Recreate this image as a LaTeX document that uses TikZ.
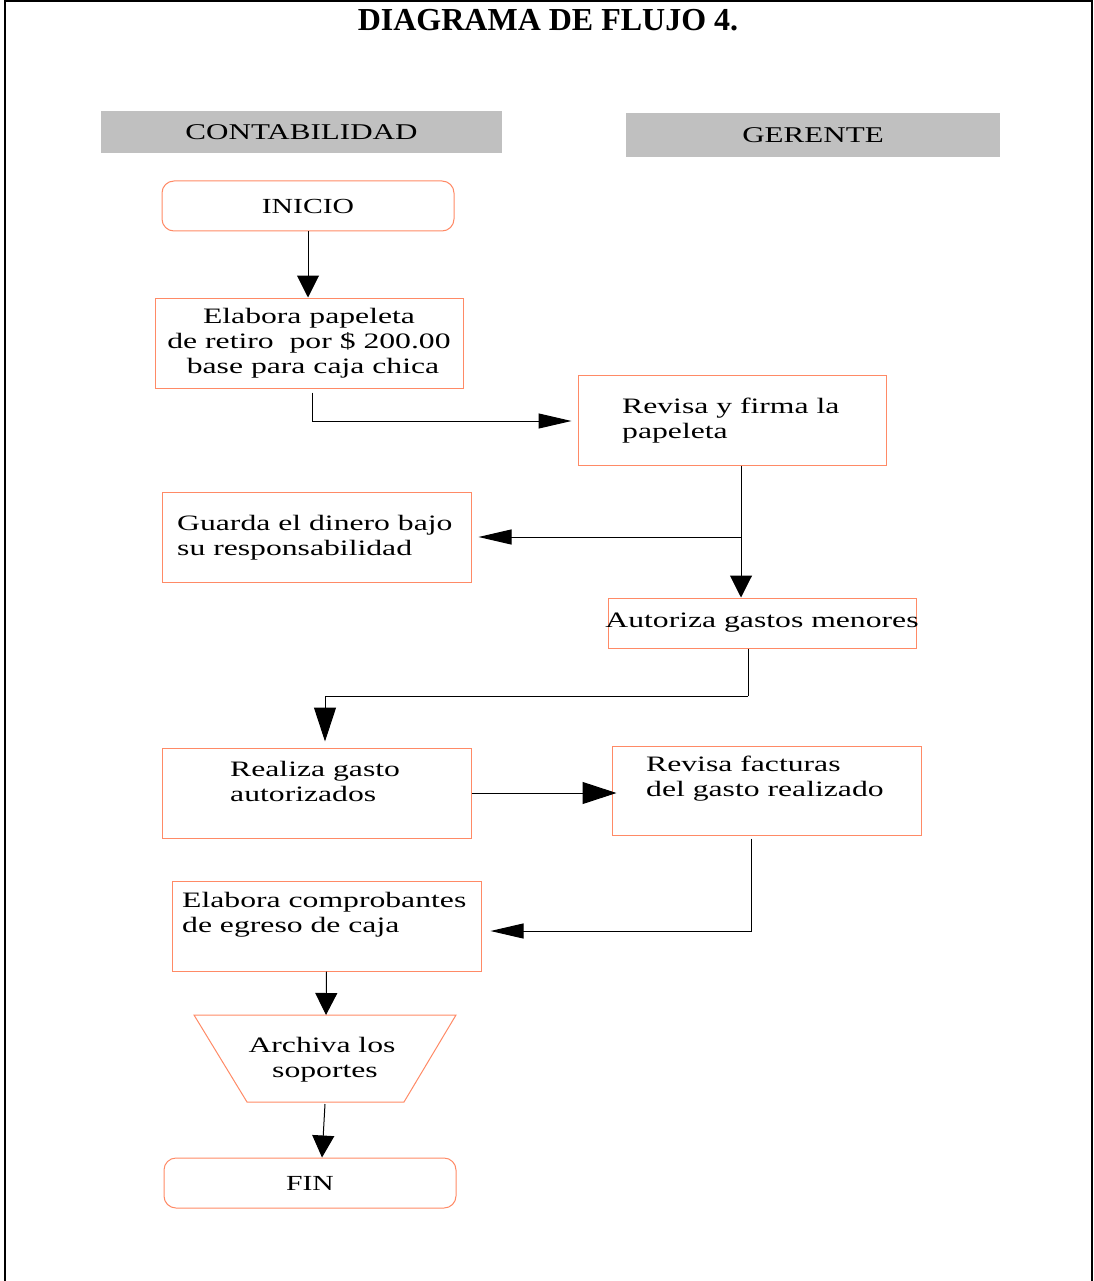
\documentclass[tikz,border=0pt]{standalone}
\usepackage{fontspec}
\setmainfont{Liberation Serif}
\newfontfamily\boxfont[FakeStretch=1.44]{Liberation Serif}
\newfontfamily\hdrfont[FakeStretch=1.38]{Liberation Serif}
\newcommand\boxtxt{\boxfont\fontsize{22}{25}\selectfont\lineskiplimit=-20pt\relax}
\newcommand\hdrtxt{\hdrfont\fontsize{22.5}{25}\selectfont}
\newcommand\termtxt{\hdrfont\fontsize{21.5}{25}\selectfont}
\usetikzlibrary{arrows.meta,calc}
\definecolor{boxline}{HTML}{FF8A66}
\definecolor{hdr}{HTML}{C0C0C0}
\begin{document}
\begin{tikzpicture}[x=1pt,y=-1pt,
  box/.style={draw=boxline, line width=1pt, rectangle, inner sep=0pt},
  rbox/.style={box, rounded corners=12pt, font=\termtxt},
  bfont/.style={font=\boxtxt},
  txt/.style={bfont, align=left, inner sep=0pt},
  hdrbox/.style={fill=hdr, inner sep=0pt, font=\hdrtxt},
  ln/.style={draw=black, line width=1pt},
  av/.style={ln, -{Triangle[length=22pt,width=22pt]}},
  ah/.style={ln, -{Triangle[length=33pt,width=15pt]}},
  aw/.style={ln, -{Triangle[length=34pt,width=22pt]}}]
\useasboundingbox (0,0) rectangle (1093,1281);
% frame
\draw[line width=1.5pt] (5,1281) -- (5,1) -- (1092,1) -- (1092,1281);
% title and lane headers
\node[font=\bfseries\fontsize{32}{36}\selectfont] (title) at (548,20) {DIAGRAMA DE FLUJO 4.};
\node[hdrbox, minimum width=401pt, minimum height=42pt] (h1) at (301.5,132) {CONTABILIDAD};
\node[hdrbox, minimum width=374pt, minimum height=44pt] (h2) at (813,135) {GERENTE};
% nodes
\node[rbox, minimum width=292pt, minimum height=50pt] (inicio) at (308,206) {INICIO};
\node[box, bfont, align=center, minimum width=308pt, minimum height=90pt] (elab) at (309,343)
  {Elabora papeleta\\de retiro\ \ por \$ 200.00\\\hspace*{8pt}base para caja chica};
\node[box, minimum width=308pt, minimum height=90pt] (rev) at (732,420) {};
\node[txt, anchor=west] (revt) at (622,421) {Revisa y firma la\\papeleta};
\node[box, minimum width=309pt, minimum height=90pt] (guar) at (316.5,537) {};
\node[txt, anchor=west] (guart) at (177,538) {Guarda el dinero bajo\\su responsabilidad};
\node[box, bfont, minimum width=308pt, minimum height=50pt] (aut) at (762,623) {\makebox[0pt]{Autoriza gastos menores}};
\node[box, minimum width=309pt, minimum height=90pt] (real) at (316.5,793) {};
\node[txt, anchor=west] (realt) at (230,781) {Realiza gasto\\autorizados};
\node[box, minimum width=309pt, minimum height=89pt] (fact) at (766.5,790.5) {};
\node[txt, anchor=west] (factt) at (646,779) {Revisa facturas\\del gasto realizado};
\node[box, minimum width=309pt, minimum height=90pt] (comp) at (326.5,926) {};
\node[txt, anchor=west] (compt) at (182,915) {Elabora comprobantes\\de egreso de caja};
\draw[draw=boxline, line width=1pt] (194,1015) -- (456,1015) -- (404,1102) -- (247,1102) -- cycle;
\node[txt, align=center] (arch) at (322,1060) {Archiva los\\\hspace*{6pt}soportes};
\coordinate (archtop) at (326,1015);
\coordinate (archbot) at (325,1104);
\node[rbox, minimum width=292pt, minimum height=50pt] (fin) at (310,1183) {FIN};
% connectors
\draw[av] (inicio.south) -- ([xshift=-1pt]elab.north);
\draw[ah] ([xshift=3pt,yshift=-4pt]elab.south) |- ([xshift=-6pt,yshift=-1pt]rev.west);
\coordinate (j1) at (741,537);
\draw[ln] ([xshift=9pt]rev.south) -- (j1);
\draw[ah] (j1) -- ([xshift=7pt]guar.east);
\draw[av] (j1) -- (j1 |- aut.north);
\coordinate (j2) at (748,696);
\draw[ln] ([xshift=-14pt]aut.south) -- (j2);
\draw[aw] (j2) -| ([xshift=8.5pt,yshift=6pt]real.north);
\draw[aw] (real.east) -- ([xshift=5pt]fact.west |- real.east);
\draw[ah] ([xshift=-15.5pt,yshift=-3pt]fact.south) |- ([xshift=9pt,yshift=-5pt]comp.east);
\draw[av] (comp.south) -- (archtop);
\draw[av] (archbot) -- ([xshift=12pt]fin.north);
\end{tikzpicture}
\end{document}
